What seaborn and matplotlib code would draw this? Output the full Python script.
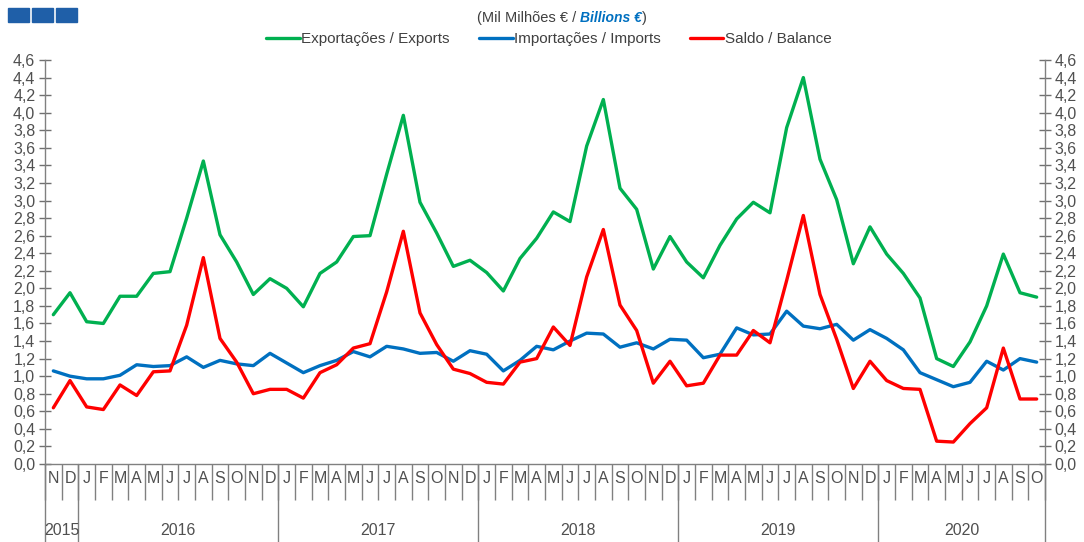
import numpy as np
import pandas as pd
import matplotlib
matplotlib.use("Agg")
import matplotlib.pyplot as plt
import matplotlib.transforms as mtransforms
from matplotlib.lines import Line2D
from matplotlib.patches import Rectangle
from matplotlib.ticker import FuncFormatter
import seaborn as sns

# monthly data, Nov 2015 .. Oct 2020 (thousand million euro)
months = ["N", "D"] + list("JFMAMJJASOND") * 4 + list("JFMAMJJASO")
years = ["2015", "2016", "2017", "2018", "2019", "2020"]
year_len = [2, 12, 12, 12, 12, 10]

exports = [1.70, 1.95,
           1.62, 1.60, 1.91, 1.91, 2.17, 2.19, 2.80, 3.45, 2.61, 2.30, 1.93, 2.11,
           2.00, 1.79, 2.17, 2.30, 2.59, 2.60, 3.30, 3.97, 2.98, 2.63, 2.25, 2.32,
           2.18, 1.97, 2.34, 2.57, 2.87, 2.76, 3.62, 4.15, 3.14, 2.90, 2.22, 2.59,
           2.30, 2.12, 2.49, 2.79, 2.98, 2.86, 3.83, 4.40, 3.47, 3.01, 2.28, 2.70,
           2.39, 2.17, 1.89, 1.20, 1.11, 1.39, 1.80, 2.39, 1.95, 1.90]
imports = [1.06, 1.00,
           0.97, 0.97, 1.01, 1.13, 1.11, 1.12, 1.22, 1.10, 1.18, 1.14, 1.12, 1.26,
           1.15, 1.04, 1.12, 1.18, 1.28, 1.22, 1.34, 1.31, 1.26, 1.27, 1.17, 1.29,
           1.25, 1.06, 1.18, 1.34, 1.30, 1.40, 1.49, 1.48, 1.33, 1.38, 1.31, 1.42,
           1.41, 1.21, 1.25, 1.55, 1.47, 1.48, 1.74, 1.57, 1.54, 1.59, 1.41, 1.53,
           1.43, 1.30, 1.04, 0.96, 0.88, 0.93, 1.17, 1.07, 1.20, 1.16]
balance = [0.64, 0.95,
           0.65, 0.62, 0.90, 0.78, 1.05, 1.06, 1.58, 2.35, 1.43, 1.16, 0.80, 0.85,
           0.85, 0.75, 1.04, 1.13, 1.32, 1.37, 1.96, 2.65, 1.72, 1.36, 1.08, 1.03,
           0.93, 0.91, 1.16, 1.20, 1.56, 1.35, 2.13, 2.67, 1.81, 1.52, 0.92, 1.17,
           0.89, 0.92, 1.24, 1.24, 1.52, 1.38, 2.09, 2.83, 1.93, 1.42, 0.86, 1.17,
           0.95, 0.86, 0.85, 0.26, 0.25, 0.46, 0.64, 1.32, 0.74, 0.74]

series_names = ["Exportações / Exports", "Importações / Imports", "Saldo / Balance"]
colors = ["#00B050", "#0070C0", "#FF0000"]

n = len(months)
df = pd.DataFrame({"idx": np.arange(n)})
for name, vals in zip(series_names, [exports, imports, balance]):
    df[name] = vals
long = df.melt(id_vars="idx", var_name="series", value_name="value")

sns.set_style("white")
plt.rcParams["font.family"] = ["Liberation Sans", "DejaVu Sans"]
grey = "#505050"

fig = plt.figure(figsize=(10.84, 5.42), dpi=100)
ax = fig.add_axes([45 / 1084, 78 / 542, 1000 / 1084, 404 / 542])

sns.lineplot(data=long, x="idx", y="value", hue="series", hue_order=series_names,
             palette=colors, linewidth=2.4, ax=ax, legend=False)

ax.set_xlim(-0.5, n - 0.5)
ax.set_ylim(0, 4.6)
ax.set_xlabel("")
ax.set_ylabel("")
ax.spines["top"].set_visible(False)
for s in ["left", "right", "bottom"]:
    ax.spines[s].set_color("#808080")
    ax.spines[s].set_linewidth(1.0)

# y axis on both sides
ax.set_yticks(np.arange(0, 4.61, 0.2))
ax.yaxis.set_major_formatter(FuncFormatter(lambda v, p: f"{v:.1f}".replace(".", ",")))
ax.tick_params(axis="y", which="major", left=True, right=True, labelleft=True,
               labelright=True, direction="inout", length=8, width=1.0,
               color="#707070", labelsize=11.5, labelcolor=grey, pad=3)

# x axis: month cells + year row
ax.set_xticks(np.arange(-0.5, n, 1))
ax.set_xticklabels([])
ax.tick_params(axis="x", which="major", direction="out", length=26, width=1.0,
               color="#808080", bottom=True)
ax.set_xticks(np.arange(n), minor=True)
ax.set_xticklabels(months, minor=True)
ax.tick_params(axis="x", which="minor", length=0, pad=5, labelsize=11.5,
               labelcolor=grey)

trans = mtransforms.blended_transform_factory(ax.transData, ax.transAxes)
edges = np.concatenate([[0], np.cumsum(year_len)]) - 0.5
for e in edges:
    ax.plot([e, e], [0, -0.2], transform=trans, color="#808080", lw=1.0,
            clip_on=False)
for i, y in enumerate(years):
    ax.text((edges[i] + edges[i + 1]) / 2, -0.165, y, transform=trans,
            ha="center", va="center", fontsize=11.5, color=grey)

# legend
handles = [Line2D([], [], color=c, lw=2.4) for c in colors]
fig.legend(handles, series_names, loc="center", bbox_to_anchor=(549 / 1084, 1 - 39 / 542),
           ncol=3, frameon=False, fontsize=11, handlelength=2.2,
           handletextpad=0.1, columnspacing=1.9, labelcolor="#404040")

# subtitle with mixed styling
t1 = fig.text(477 / 1084, 1 - 18 / 542, "(Mil Milhões € / ", fontsize=10.5,
              color="#404040", ha="left", va="center")
t2 = fig.text(0, 0, "Billions €", fontsize=10, color="#0070C0", fontweight="bold",
              fontstyle="italic", ha="left", va="center")
t3 = fig.text(0, 0, ")", fontsize=10.5, color="#404040", ha="left", va="center")
fig.canvas.draw()
r = fig.canvas.get_renderer()
bb1 = t1.get_window_extent(r)
t2.set_position((bb1.x1 / fig.bbox.width, 1 - 18 / 542))
bb2 = t2.get_window_extent(r)
t3.set_position((bb2.x1 / fig.bbox.width, 1 - 18 / 542))

# header squares
for k in range(3):
    fig.add_artist(Rectangle(((8 + k * 24) / 1084, 1 - 22 / 542), 21 / 1084, 14 / 542,
                             transform=fig.transFigure, color="#1F5FA8"))

fig.savefig("out.png", dpi=100)
